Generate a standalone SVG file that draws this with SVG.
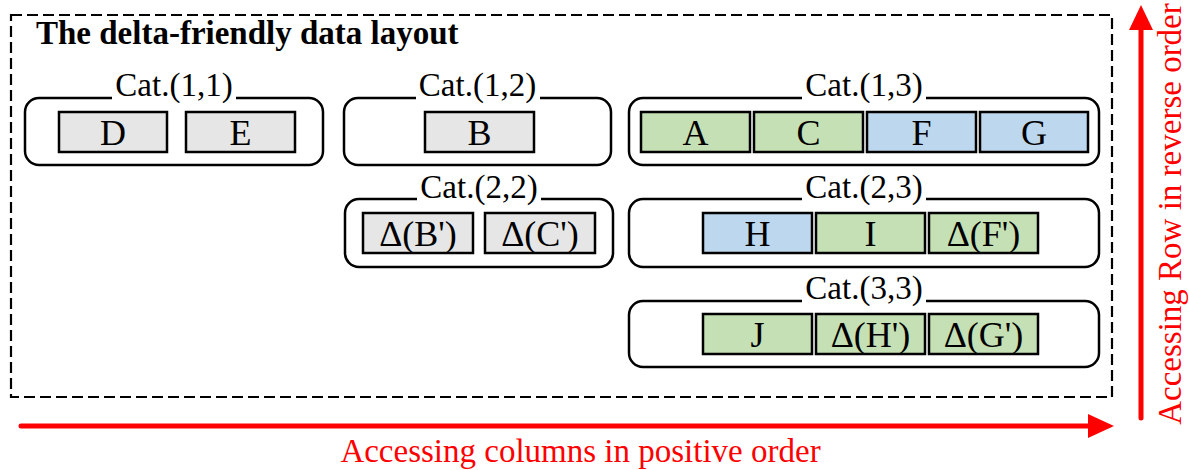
<svg xmlns="http://www.w3.org/2000/svg" width="1189" height="470" viewBox="0 0 1189 470">
<style>
text{font-family:"Liberation Serif","Times New Roman",serif;fill:#000}
.cat{fill:#fff;stroke:#000;stroke-width:2.5}
.lbl{font-size:33px;text-anchor:middle}
.gap{fill:#fff}
.it{stroke:#000;stroke-width:2.5}
.gray{fill:#e6e6e6}
.green{fill:#c5e0b4}
.blue{fill:#bdd7ee}
.itx{font-size:36px;text-anchor:middle}
.red{fill:#ff0000}
</style>
<rect x="11" y="15" width="1101" height="382" fill="none" stroke="#000" stroke-width="2.2" stroke-dasharray="11,5"/>
<text x="36" y="44" font-size="33" font-weight="bold">The delta-friendly data layout</text>

<g id="cat11">
<rect class="cat" x="25" y="98" width="298" height="67" rx="14"/>
<rect class="gap" x="112" y="90" width="124" height="12"/>
<text class="lbl" x="174" y="96">Cat.(1,1)</text>
<rect class="it gray" x="59" y="112" width="108" height="40"/>
<text class="itx" x="113" y="145">D</text>
<rect class="it gray" x="186" y="112" width="109" height="40"/>
<text class="itx" x="240.5" y="145">E</text>
</g>

<g id="cat12">
<rect class="cat" x="344" y="98" width="267" height="67" rx="14"/>
<rect class="gap" x="416" y="90" width="124" height="12"/>
<text class="lbl" x="477.5" y="96">Cat.(1,2)</text>
<rect class="it gray" x="425" y="112" width="109" height="40"/>
<text class="itx" x="479.5" y="145">B</text>
</g>

<g id="cat13">
<rect class="cat" x="629" y="98" width="470" height="67" rx="14"/>
<rect class="gap" x="802" y="90" width="124" height="12"/>
<text class="lbl" x="864" y="96">Cat.(1,3)</text>
<rect class="it green" x="641" y="112" width="109" height="40"/>
<text class="itx" x="695.5" y="145">A</text>
<rect class="it green" x="754" y="112" width="109" height="40"/>
<text class="itx" x="808.5" y="145">C</text>
<rect class="it blue" x="867" y="112" width="109" height="40"/>
<text class="itx" x="921.5" y="145">F</text>
<rect class="it blue" x="980" y="112" width="108" height="40"/>
<text class="itx" x="1034" y="145">G</text>
</g>

<g id="cat22">
<rect class="cat" x="345" y="199" width="268" height="68" rx="14"/>
<rect class="gap" x="417" y="191" width="124" height="12"/>
<text class="lbl" x="479" y="198">Cat.(2,2)</text>
<rect class="it gray" x="363" y="213" width="110" height="40"/>
<text class="itx" x="418" y="246">Δ(B')</text>
<rect class="it gray" x="485" y="213" width="110" height="40"/>
<text class="itx" x="540" y="246">Δ(C')</text>
</g>

<g id="cat23">
<rect class="cat" x="629" y="199" width="470" height="68" rx="14"/>
<rect class="gap" x="802" y="191" width="124" height="12"/>
<text class="lbl" x="864" y="198">Cat.(2,3)</text>
<rect class="it blue" x="703" y="213" width="109" height="40"/>
<text class="itx" x="757.5" y="246">H</text>
<rect class="it green" x="816" y="213" width="109" height="40"/>
<text class="itx" x="870.5" y="246">I</text>
<rect class="it green" x="929" y="213" width="109" height="40"/>
<text class="itx" x="983.5" y="246">Δ(F')</text>
</g>

<g id="cat33">
<rect class="cat" x="629" y="301" width="470" height="66" rx="14"/>
<rect class="gap" x="802" y="293" width="124" height="12"/>
<text class="lbl" x="864" y="299">Cat.(3,3)</text>
<rect class="it green" x="703" y="314" width="109" height="40"/>
<text class="itx" x="757.5" y="347">J</text>
<rect class="it green" x="816" y="314" width="109" height="40"/>
<text class="itx" x="870.5" y="347">Δ(H')</text>
<rect class="it green" x="929" y="314" width="109" height="40"/>
<text class="itx" x="983.5" y="347">Δ(G')</text>
</g>

<g id="connectors">
<line x1="21" y1="426" x2="1092" y2="426" stroke="#ff0000" stroke-width="5" stroke-linecap="round"/>
<polygon class="red" points="1088,414 1114,426 1088,438"/>
<line x1="1141" y1="418" x2="1141" y2="27" stroke="#ff0000" stroke-width="5" stroke-linecap="round"/>
<polygon class="red" points="1129,30 1141,5 1153,30"/>
</g>
<text x="580.5" y="462" font-size="33" text-anchor="middle" style="fill:#ff0000">Accessing columns in positive order</text>
<text transform="translate(1181,214) rotate(-90)" font-size="33" text-anchor="middle" style="fill:#ff0000">Accessing Row in reverse order</text>
</svg>
